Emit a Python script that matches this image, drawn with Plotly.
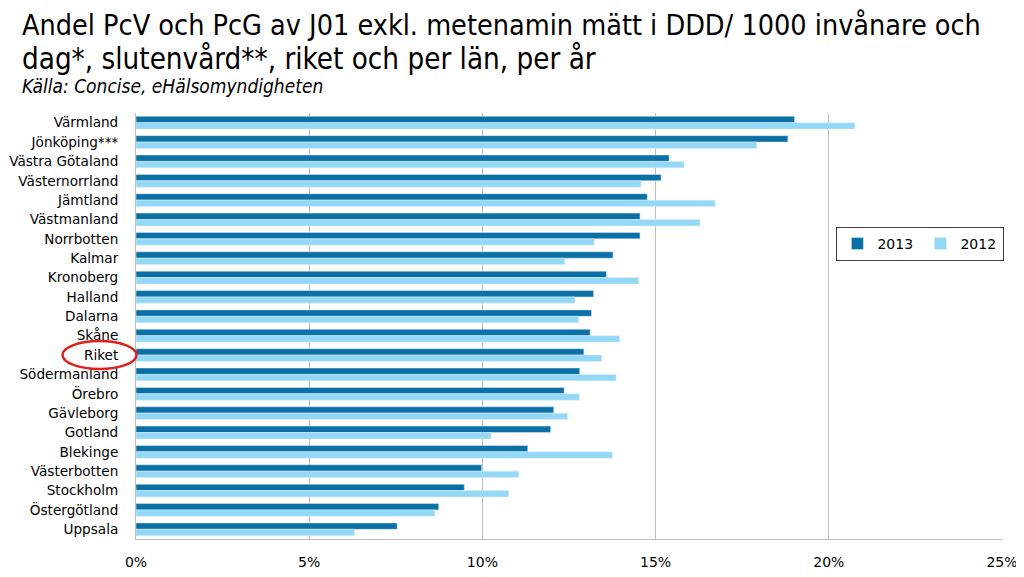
import plotly.graph_objects as go

categories = ["Värmland", "Jönköping***", "Västra Götaland", "Västernorrland", "Jämtland",
              "Västmanland", "Norrbotten", "Kalmar", "Kronoberg", "Halland", "Dalarna",
              "Skåne", "Riket", "Södermanland", "Örebro", "Gävleborg", "Gotland",
              "Blekinge", "Västerbotten", "Stockholm", "Östergötland", "Uppsala"]
values_2013 = [19.01, 18.82, 15.39, 15.16, 14.76, 14.55, 14.55, 13.77, 13.58, 13.21, 13.15,
               13.11, 12.93, 12.81, 12.36, 12.06, 11.97, 11.31, 9.98, 9.48, 8.74, 7.54]
values_2012 = [20.75, 17.92, 15.82, 14.58, 16.72, 16.28, 13.23, 12.38, 14.51, 12.67, 12.78,
               13.96, 13.44, 13.86, 12.80, 12.46, 10.25, 13.75, 11.05, 10.76, 8.63, 6.31]
x_ticks = [0, 5, 10, 15, 20, 25]
x_tick_labels = ["0%", "5%", "10%", "15%", "20%", "25%"]

title_line1 = "Andel PcV och PcG av J01 exkl. metenamin mätt i DDD/ 1000 invånare och"
title_line2 = "dag*, slutenvård**, riket och per län, per år"
subtitle_text = "Källa: Concise, eHälsomyndigheten"

fig = go.Figure()
fig.add_trace(go.Bar(y=categories, x=[v / 100 for v in values_2013], orientation="h",
                     name="2013", marker_color="#0A70A6"))
fig.add_trace(go.Bar(y=categories, x=[v / 100 for v in values_2012], orientation="h",
                     name="2012", marker_color="#93D8F6"))

OFF = 8  # page body margin
W, H = 1024 - OFF, 577 - OFF
# plot area edges in screen pixels
SL, SR, ST, SB = 135.5, 1001.6, 113, 539
L, R, T, B = SL - OFF, 1024 - SR, ST - OFF, 577 - SB
pw, ph = SR - SL, SB - ST

def px_x(x):
    return (x - SL) / pw

def px_y(y):
    return (SB - y) / ph

title_font = "DejaVu Sans Condensed"

fig.update_layout(
    width=W, height=H,
    margin=dict(l=L, r=R, t=T, b=B, autoexpand=False),
    paper_bgcolor="white", plot_bgcolor="white",
    barmode="group", bargap=0.34, bargroupgap=0,
    font=dict(family="DejaVu Sans", size=13, color="#000000"),
    legend=dict(orientation="h", x=px_x(836), y=px_y(227), xanchor="left", yanchor="top",
                bordercolor="#404040", borderwidth=1, bgcolor="white",
                font=dict(family="DejaVu Sans", size=14), entrywidth=38, entrywidthmode="pixels"),
    showlegend=True,
)
fig.update_xaxes(range=[0, 0.25], tickvals=[t / 100 for t in x_ticks], ticktext=x_tick_labels,
                 showgrid=True, gridcolor="#BFBFBF", gridwidth=1, zeroline=False,
                 showline=True, linecolor="#BFBFBF", linewidth=1, automargin=False,
                 tickfont=dict(size=14), ticklabelstandoff=10, fixedrange=True)
fig.update_yaxes(autorange="reversed", showline=True, linecolor="#BFBFBF", linewidth=1,
                 showgrid=False, tickfont=dict(size=13.6), ticklabelstandoff=14,
                 automargin=False, fixedrange=True)

fig.add_annotation(text=title_line1, xref="paper", yref="paper", x=px_x(20), y=px_y(8),
                   xanchor="left", yanchor="top", showarrow=False, borderpad=0,
                   font=dict(family=title_font, size=28.5, color="#000000"))
fig.add_annotation(text=title_line2, xref="paper", yref="paper", x=px_x(20), y=px_y(41),
                   xanchor="left", yanchor="top", showarrow=False, borderpad=0,
                   font=dict(family=title_font, size=29.3, color="#000000"))
fig.add_annotation(text="<i>" + subtitle_text + "</i>", xref="paper", yref="paper",
                   x=px_x(20), y=px_y(74), xanchor="left", yanchor="top", showarrow=False,
                   borderpad=0, font=dict(family=title_font, size=19, color="#000000"))

fig.add_shape(type="circle", xref="paper", yref="y",
              x0=px_x(62), x1=px_x(136), y0=12 - 0.72, y1=12 + 0.72,
              line=dict(color="#E0201B", width=2.5))

fig.write_html("out.html")
